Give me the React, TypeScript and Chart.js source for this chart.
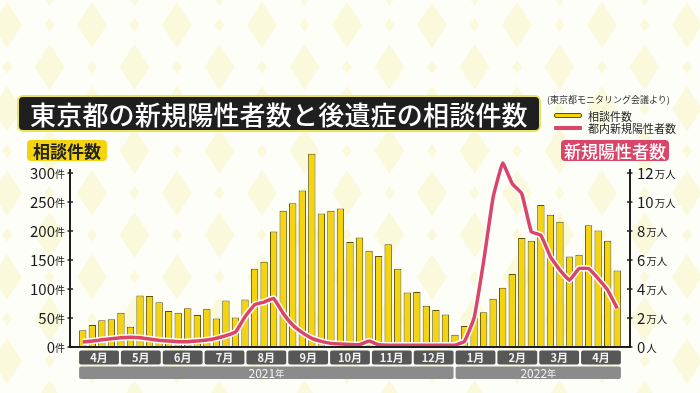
import React, { useEffect, useRef } from "react";
import { Chart, registerables } from "chart.js";

Chart.register(...registerables);

const FONT = '"Noto Sans CJK JP", "Noto Sans", sans-serif';

// weekly categories (Apr 2021 - Apr 2022)
const weeks: string[] = [
  "w1","w2","w3","w4","w5","w6","w7","w8","w9","w10",
  "w11","w12","w13","w14","w15","w16","w17","w18","w19","w20",
  "w21","w22","w23","w24","w25","w26","w27","w28","w29","w30",
  "w31","w32","w33","w34","w35","w36","w37","w38","w39","w40",
  "w41","w42","w43","w44","w45","w46","w47","w48","w49","w50",
  "w51","w52","w53","w54","w55","w56","w57",
];

// 相談件数 (件)
const consultations: number[] = [
  29, 38, 46, 48, 59, 35, 89, 88, 77, 62,
  59, 67, 55, 66, 49, 80, 51, 82, 135, 147,
  199, 235, 248, 270, 333, 230, 235, 239, 181, 189,
  166, 157, 177, 135, 94, 95, 71, 64, 56, 21,
  36, 50, 60, 83, 102, 126, 188, 183, 245, 228,
  216, 156, 159, 210, 201, 183, 132,
];

// 都内新規陽性者数 (人, weekly)
const newCases: number[] = [
  3400, 4100, 5000, 5700, 6400, 6700, 6400, 5500, 4600, 4100,
  3700, 3700, 4100, 4800, 6000, 7800, 10300, 20900, 29100, 31000,
  33500, 23200, 15100, 9900, 6000, 3900, 2500, 2100, 1800, 1600,
  4100, 1500, 1200, 1200, 1200, 1200, 1200, 1200, 1200, 1300,
  4000, 20000, 59000, 103400, 126800, 112600, 105700, 79400, 77100, 62200,
  53000, 46100, 54100, 54100, 47200, 39200, 26600,
];

const leftTicks: number[] = [0, 50, 100, 150, 200, 250, 300];
const rightTicks: number[] = [0, 20000, 40000, 60000, 80000, 100000, 120000];
const rightTickNumbers: string[] = ["0", "2", "4", "6", "8", "10", "12"];
const rightTickUnits: string[] = ["人", "万人", "万人", "万人", "万人", "万人", "万人"];

const months: string[] = ["4月","5月","6月","7月","8月","9月","10月","11月","12月","1月","2月","3月","4月"];
const years: string[] = ["2021", "2022"];
const monthsPerYear: number[] = [9, 4];

const BAR_FILL = "#f4d40e";
const BAR_EDGE = "#5f5300";
const LINE_RED = "#d9466a";

function diamond(ctx: CanvasRenderingContext2D, x: number, y: number, hw: number, hh: number) {
  ctx.beginPath();
  ctx.moveTo(x, y - hh);
  ctx.lineTo(x + hw, y);
  ctx.lineTo(x, y + hh);
  ctx.lineTo(x - hw, y);
  ctx.closePath();
  ctx.fill();
}

function roundRect(ctx: CanvasRenderingContext2D, x: number, y: number, w: number, h: number, r: number) {
  ctx.beginPath();
  ctx.moveTo(x + r, y);
  ctx.lineTo(x + w - r, y);
  ctx.quadraticCurveTo(x + w, y, x + w, y + r);
  ctx.lineTo(x + w, y + h - r);
  ctx.quadraticCurveTo(x + w, y + h, x + w - r, y + h);
  ctx.lineTo(x + r, y + h);
  ctx.quadraticCurveTo(x, y + h, x, y + h - r);
  ctx.lineTo(x, y + r);
  ctx.quadraticCurveTo(x, y, x + r, y);
  ctx.closePath();
}

const bgPlugin = {
  id: "bgDiamonds",
  beforeDraw(chart: any) {
    const { ctx, width, height } = chart;
    ctx.save();
    ctx.fillStyle = "#fefef8";
    ctx.fillRect(0, 0, width, height);
    ctx.fillStyle = "#fbf9dc";
    const colW = 42.5;
    const rowH = 84;
    for (let c = 0; c < width / colW + 2; c++) {
      const x = 7 + c * colW;
      const even = c % 2 === 0;
      const yL = even ? 25 : 67;
      const yS = even ? 67 : 25;
      for (let r = -1; r < height / rowH + 2; r++) {
        diamond(ctx, x, yL + r * rowH, 15, 23);
        diamond(ctx, x, yS + r * rowH, 5, 7);
      }
    }
    ctx.restore();
  },
};

const axesPlugin = {
  id: "customAxes",
  afterDatasetsDraw(chart: any) {
    const { ctx, chartArea, scales } = chart;
    const y = scales.y;
    const y2 = scales.y2;
    const axL = chartArea.left - 8;
    const axR = chartArea.right + 8;
    const bottom = y.getPixelForValue(0);
    const top = y.getPixelForValue(300) - 4;
    ctx.save();
    ctx.strokeStyle = "#1e1e1e";
    ctx.lineWidth = 2;
    ctx.beginPath();
    ctx.moveTo(axL, top);
    ctx.lineTo(axL, bottom);
    ctx.lineTo(axR, bottom);
    ctx.lineTo(axR, top);
    ctx.stroke();

    ctx.lineWidth = 1.5;
    leftTicks.forEach((v) => {
      const py = y.getPixelForValue(v);
      ctx.beginPath();
      ctx.moveTo(axL - 2.5, py);
      ctx.lineTo(axL + 3, py);
      ctx.stroke();
    });
    rightTicks.forEach((v) => {
      const py = y2.getPixelForValue(v);
      ctx.beginPath();
      ctx.moveTo(axR - 3, py);
      ctx.lineTo(axR + 2.5, py);
      ctx.stroke();
    });

    ctx.fillStyle = "#1a1a1a";
    ctx.textBaseline = "middle";
    leftTicks.forEach((v) => {
      const py = y.getPixelForValue(v);
      ctx.textAlign = "right";
      ctx.font = `10px ${FONT}`;
      const unit = "件";
      const uw = ctx.measureText(unit).width;
      ctx.fillText(unit, axL - 5, py + 1.5);
      ctx.font = `15px ${FONT}`;
      ctx.fillText(String(v), axL - 5 - uw, py);
    });
    rightTicks.forEach((v, i) => {
      const py = y2.getPixelForValue(v);
      ctx.textAlign = "left";
      ctx.font = `15px ${FONT}`;
      const num = rightTickNumbers[i];
      const nw = ctx.measureText(num).width;
      ctx.fillText(num, axR + 7, py);
      ctx.font = `10.5px ${FONT}`;
      ctx.fillText(rightTickUnits[i], axR + 7 + nw + 1, py + 1.5);
    });

    // month / year boxes
    const meta = chart.getDatasetMeta(2);
    const firstBar = meta.data[0];
    const lastBar = meta.data[meta.data.length - 1];
    const x0 = firstBar.x - firstBar.width / 2;
    const x1 = lastBar.x + lastBar.width / 2;
    const gap = 2;
    const n = months.length;
    const mw = (x1 - x0 - (n - 1) * gap) / n;
    const my = bottom + 3.5;
    const mh = 14;
    months.forEach((m, i) => {
      const bx = x0 + i * (mw + gap);
      ctx.fillStyle = "#575757";
      roundRect(ctx, bx, my, mw, mh, 2);
      ctx.fill();
      ctx.fillStyle = "#f2f2f2";
      ctx.font = `bold 11px ${FONT}`;
      ctx.textAlign = "center";
      ctx.fillText(m, bx + mw / 2, my + mh / 2 + 0.5);
    });
    let startIdx = 0;
    const yy = bottom + 19.5;
    const yh = 12.5;
    years.forEach((yr, i) => {
      const cnt = monthsPerYear[i];
      const bx = x0 + startIdx * (mw + gap);
      const bw = cnt * mw + (cnt - 1) * gap;
      ctx.fillStyle = "#8b8b8b";
      roundRect(ctx, bx, yy, bw, yh, 2);
      ctx.fill();
      ctx.fillStyle = "#f4f4f4";
      ctx.font = `12px ${FONT}`;
      const w1 = ctx.measureText(yr).width;
      ctx.font = `9px ${FONT}`;
      const w2 = ctx.measureText("年").width;
      const cx = bx + bw / 2 - (w1 + w2) / 2;
      ctx.textAlign = "left";
      ctx.font = `12px ${FONT}`;
      ctx.fillText(yr, cx, yy + yh / 2 + 0.5);
      ctx.font = `9px ${FONT}`;
      ctx.fillText("年", cx + w1, yy + yh / 2 + 1);
      startIdx += cnt;
    });
    ctx.restore();
  },
};

export default function App() {
  const canvasRef = useRef<HTMLCanvasElement | null>(null);

  useEffect(() => {
    const canvas = canvasRef.current;
    if (!canvas) return;
    const chart = new Chart(canvas, {
      type: "bar",
      data: {
        labels: weeks,
        datasets: [
          {
            type: "line",
            label: "都内新規陽性者数",
            data: newCases,
            yAxisID: "y2",
            borderColor: LINE_RED,
            borderWidth: 3.5,
            pointRadius: 0,
            tension: 0.1,
            clip: false,
            order: 0,
          } as any,
          {
            type: "line",
            label: "outline",
            data: newCases,
            yAxisID: "y2",
            borderColor: "rgba(255,255,255,0.95)",
            borderWidth: 6.5,
            pointRadius: 0,
            tension: 0.1,
            clip: false,
            order: 1,
          } as any,
          {
            type: "bar",
            label: "相談件数",
            data: consultations,
            yAxisID: "y",
            backgroundColor: BAR_FILL,
            borderColor: BAR_EDGE,
            borderWidth: 1,
            categoryPercentage: 1,
            barPercentage: 0.77,
            clip: false,
            order: 2,
          } as any,
        ],
      },
      options: {
        animation: false,
        responsive: false,
        maintainAspectRatio: false,
        events: [],
        layout: { padding: { left: 78, right: 78, top: 173, bottom: 46 } },
        plugins: { legend: { display: false }, tooltip: { enabled: false } },
        scales: {
          x: { display: false, offset: true },
          y: { display: false, min: 0, max: 300 },
          y2: { display: false, min: 0, max: 120000, position: "right" },
        },
      },
      plugins: [bgPlugin, axesPlugin],
    });
    return () => chart.destroy();
  }, []);

  const abs = (s: React.CSSProperties): React.CSSProperties => ({ position: "absolute", ...s });

  return (
    <div style={{ position: "absolute", left: 0, top: 0, width: 700, height: 393, overflow: "hidden", fontFamily: FONT }}>
      <canvas ref={canvasRef} width={700} height={393} style={{ position: "absolute", left: 0, top: 0, width: 700, height: 393 }} />
      <div
        style={abs({
          left: 17, top: 95, width: 524, height: 37, boxSizing: "border-box",
          background: "#1f1f1f", border: "2px solid #ece35c", borderRadius: 6,
          color: "#ffffff", fontSize: 26, fontWeight: 500, lineHeight: "33px",
          paddingLeft: 11, letterSpacing: 0.2, whiteSpace: "nowrap",
        })}
      >
        東京都の新規陽性者数と後遺症の相談件数
      </div>
      <div
        style={abs({
          left: 27, top: 140, width: 80, height: 21, background: BAR_FILL, borderRadius: 4,
          color: "#222", fontSize: 17, fontWeight: 700, lineHeight: "21px", textAlign: "center",
        })}
      >
        相談件数
      </div>
      <div
        style={abs({
          left: 561, top: 140, width: 108, height: 21, background: LINE_RED, borderRadius: 4,
          color: "#fff", fontSize: 17, fontWeight: 500, lineHeight: "21px", textAlign: "center",
        })}
      >
        新規陽性者数
      </div>
      <div style={abs({ left: 547, top: 93, fontSize: 9, color: "#333", whiteSpace: "nowrap", lineHeight: "14px" })}>
        (東京都モニタリング会議より)
      </div>
      <div style={abs({ left: 554, top: 113, width: 28, height: 5, boxSizing: "border-box", background: BAR_FILL, border: `1px solid ${BAR_EDGE}`, borderRadius: 2 })} />
      <div style={abs({ left: 554, top: 126, width: 28, height: 4, background: LINE_RED, borderRadius: 1 })} />
      <div style={abs({ left: 588, top: 108.5, fontSize: 11, color: "#222", lineHeight: "14px", whiteSpace: "nowrap" })}>相談件数</div>
      <div style={abs({ left: 588, top: 121, fontSize: 11, color: "#222", lineHeight: "14px", whiteSpace: "nowrap" })}>都内新規陽性者数</div>
    </div>
  );
}
